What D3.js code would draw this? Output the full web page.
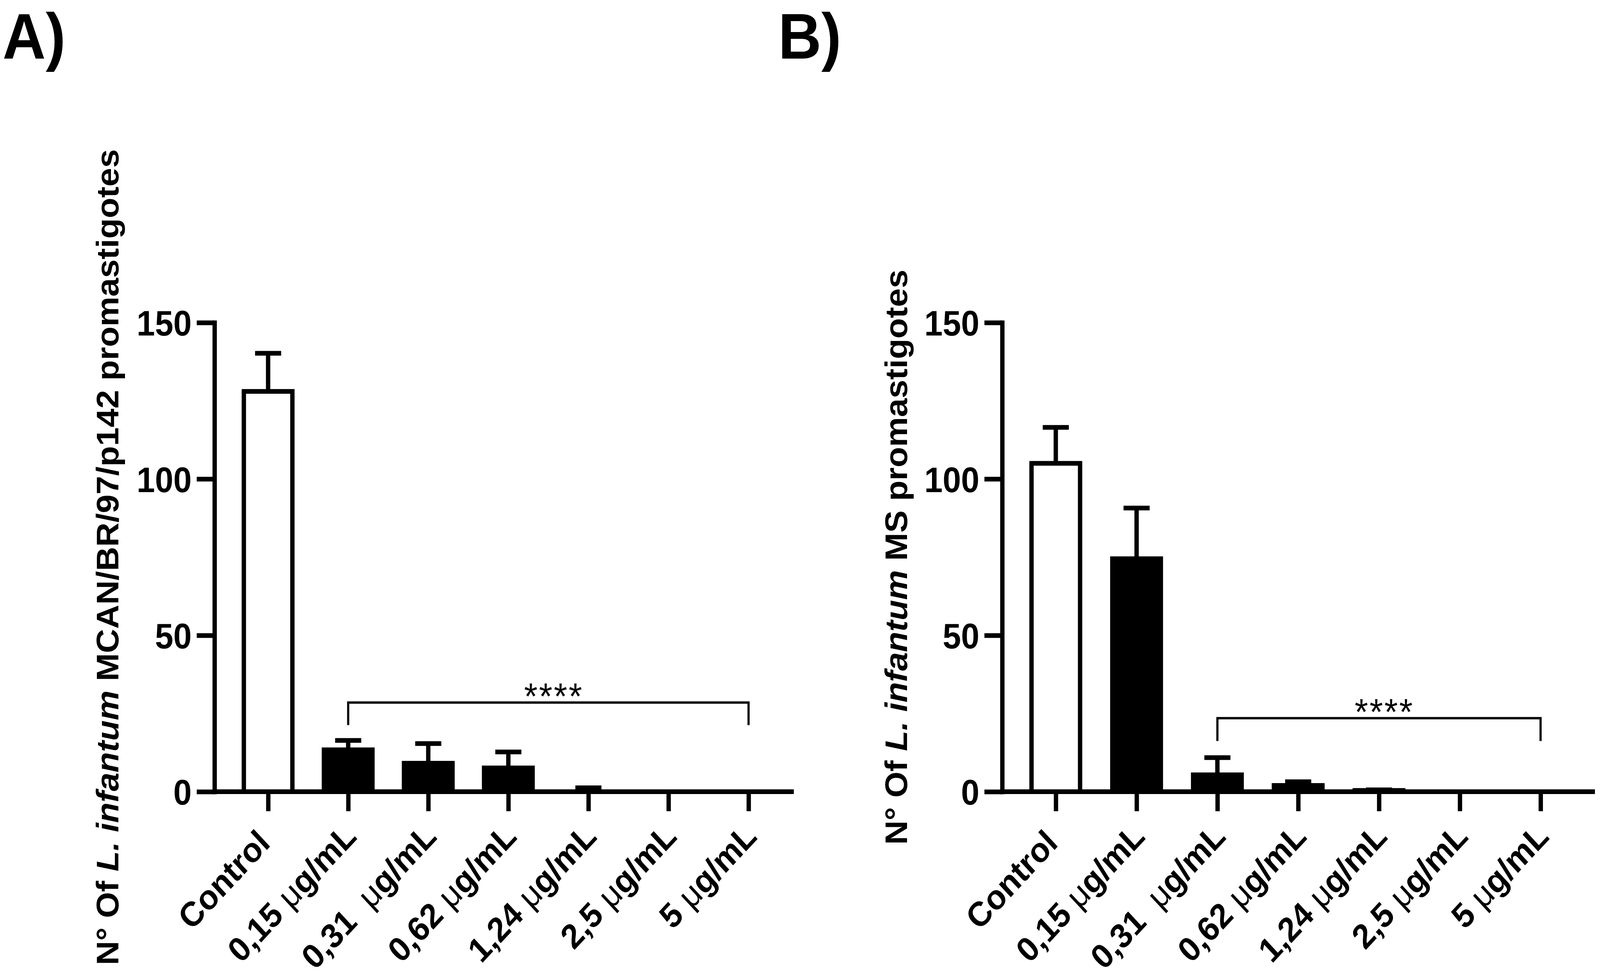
<!DOCTYPE html>
<html lang="en">
<head>
  <meta charset="UTF-8">
  <title>L. infantum promastigotes</title>
  <script src="https://d3js.org/d3.v7.min.js"></script>
  <style>
    html, body { margin: 0; padding: 0; background: #fff; overflow: hidden; }
    svg { display: block; width: 100vw; height: 100vh; font-family: "Liberation Sans", Arial, sans-serif; }
    text { white-space: pre; }
  </style>
</head>
<body>
  <div id="chart"></div>

  <script>
    // categories on the x axis (same for both panels)
    const categories = ['Control ', '0,15 μg/mL', '0,31  μg/mL', '0,62 μg/mL', '1,24 μg/mL', '2,5 μg/mL', '5 μg/mL'];

    // panel A: MCAN/BR/97/p142 strain, mean and SD
    const meanA = [128, 13.4, 9.1, 7.6, 0, 0, 0];
    const sdA = [12.2, 3.0, 6.3, 5.1, 1.25, 0, 0];

    // panel B: MS strain, mean and SD
    const meanB = [105, 74.5, 5.4, 2.0, 0.4, 0, 0];
    const sdB = [11.5, 16.2, 5.5, 1.2, 0.2, 0, 0];

    const yTicks = [0, 50, 100, 150];
    const yMax = 150;

    // significance brackets: [first category index, last category index, level, lower end]
    const sigA = [1, 6, 28.5, 21.3];
    const sigB = [2, 6, 23.5, 16.2];
    const sigText = '****';

    // y axis titles, split in plain / italic / plain parts
    const titleA = ['N° Of ', 'L. infantum', ' MCAN/BR/97/p142 promastigotes'];
    const titleB = ['N° Of ', 'L. infantum', ' MS promastigotes'];

    const W = 4416, H = 2504;
    const y0 = 2027, yTop = 826;
    const lw = 12;

    // viewBox stretched over the viewport, so the layout keeps its proportions to the frame
    const svg = d3.select('#chart')
      .append('svg')
      .attr('viewBox', `0 0 ${W} ${H}`)
      .attr('preserveAspectRatio', 'none');

    function drawPanel(p) {
      const g = svg.append('g');

      const y = d3.scaleLinear().domain([0, yMax]).range([y0, yTop]);
      const x = d3.scalePoint()
        .domain(categories)
        .range([p.xFirst, p.xFirst + p.step * (categories.length - 1)]);

      // panel letter
      svg.append('text')
        .attr('x', p.letterX)
        .attr('y', 150)
        .attr('font-size', 165)
        .attr('font-weight', 'bold')
        .text(p.letter);

      // y axis
      const yAxis = g.append('g')
        .attr('transform', `translate(${p.x0},0)`)
        .call(d3.axisLeft(y).tickValues(yTicks).tickSize(49).tickSizeOuter(0).tickPadding(14));
      yAxis.select('.domain').attr('stroke-width', lw).attr('stroke-linecap', 'square');
      yAxis.selectAll('.tick line').attr('stroke-width', lw);
      yAxis.selectAll('.tick text')
        .attr('font-size', 91)
        .attr('font-weight', 'bold')
        .attr('font-family', '"Liberation Sans", Arial, sans-serif')
        .attr('dy', '0.36em');

      // x axis: baseline line, ticks from the point scale, rotated labels
      g.append('line')
        .attr('x1', p.x0 - lw / 2).attr('x2', p.xEnd)
        .attr('y1', y0).attr('y2', y0)
        .attr('stroke', '#000').attr('stroke-width', lw);

      const xAxis = g.append('g')
        .attr('transform', `translate(0,${y0})`)
        .call(d3.axisBottom(x).tickSize(50).tickSizeOuter(0));
      xAxis.select('.domain').remove();
      xAxis.selectAll('.tick line').attr('stroke-width', lw);
      xAxis.selectAll('.tick text').remove();

      categories.forEach(c => {
        const t = g.append('text')
          .attr('transform', `translate(${x(c) + 27},${y0 + 119}) rotate(-45)`)
          .attr('text-anchor', 'end')
          .attr('font-size', 88)
          .attr('font-weight', 'bold');
        const parts = c.split('μ');
        t.append('tspan').text(parts[0]);
        if (parts.length > 1) {
          t.append('tspan').attr('font-weight', 'normal').text('μ');
          t.append('tspan').text(parts[1]);
        }
      });

      // error bars (upper only)
      const bw = 134, cw = 72;
      categories.forEach((c, i) => {
        if (p.sd[i] <= 0) return;
        const cx = x(c);
        const top = y(p.mean[i] + p.sd[i]);
        g.append('line')
          .attr('x1', cx).attr('x2', cx)
          .attr('y1', y(p.mean[i])).attr('y2', top)
          .attr('stroke', '#000').attr('stroke-width', lw);
        g.append('line')
          .attr('x1', cx - cw / 2).attr('x2', cx + cw / 2)
          .attr('y1', top).attr('y2', top)
          .attr('stroke', '#000').attr('stroke-width', lw);
      });

      // bars
      g.selectAll('rect.bar')
        .data(categories.map((c, i) => ({ c, i, v: p.mean[i] })).filter(d => d.v > 0))
        .enter()
        .append('rect')
        .attr('class', 'bar')
        .attr('x', d => x(d.c) - bw / 2)
        .attr('y', d => y(d.v))
        .attr('width', bw)
        .attr('height', d => y0 - y(d.v))
        .attr('fill', d => d.i === 0 ? '#fff' : '#000')
        .attr('stroke', '#000')
        .attr('stroke-width', lw);

      // significance bracket
      const [a, b, lvl, low] = p.sig;
      const xa = x(categories[a]), xb = x(categories[b]);
      g.append('path')
        .attr('d', `M${xa},${y(low)}V${y(lvl)}H${xb}V${y(low)}`)
        .attr('fill', 'none')
        .attr('stroke', '#000')
        .attr('stroke-width', 6);
      g.append('text')
        .attr('x', (xa + xb) / 2 + 15)
        .attr('y', y(lvl) + 16)
        .attr('text-anchor', 'middle')
        .attr('font-size', 95)
        .attr('letter-spacing', 4)
        .text(sigText);

      // y axis title
      const tt = g.append('text')
        .attr('transform', `translate(${p.titleX},${(y0 + yTop) / 2}) rotate(-90)`)
        .attr('text-anchor', 'middle')
        .attr('font-size', 86)
        .attr('font-weight', 'bold');
      p.title.forEach((s, i) => {
        tt.append('tspan').attr('font-style', i === 1 ? 'italic' : 'normal').text(s);
      });
    }

    drawPanel({ letter: 'A)', letterX: 7, x0: 592, xFirst: 740, step: 221, xEnd: 2191, titleX: 327,
      mean: meanA, sd: sdA, sig: sigA, title: titleA });
    drawPanel({ letter: 'B)', letterX: 2148, x0: 2766, xFirst: 2914, step: 223, xEnd: 4402, titleX: 2503,
      mean: meanB, sd: sdB, sig: sigB, title: titleB });
  </script>
</body>
</html>
